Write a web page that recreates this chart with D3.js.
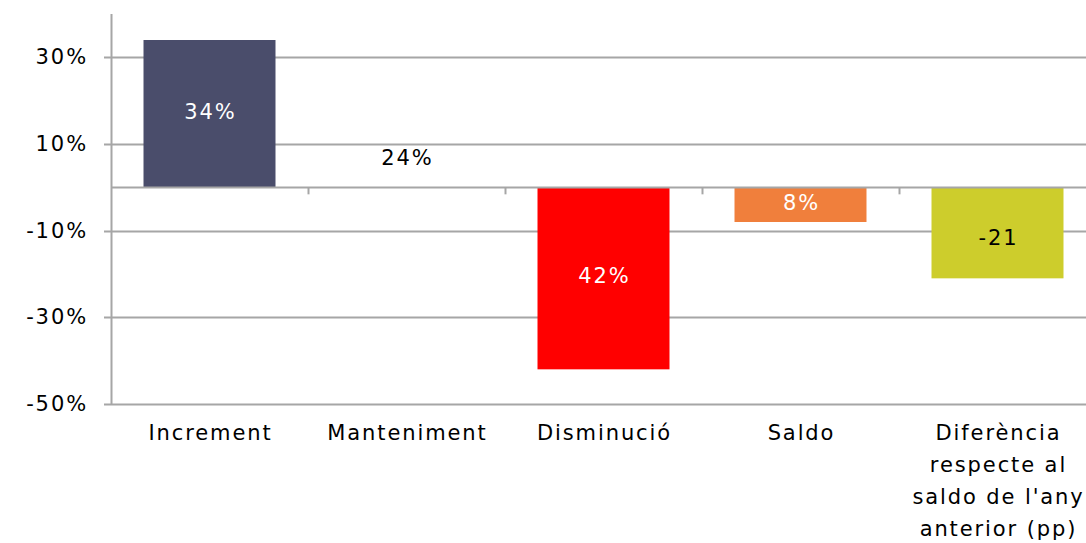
<!DOCTYPE html>
<html>
<head>
<meta charset="utf-8">
<script src="https://cdn.jsdelivr.net/npm/d3@7"></script>
<style>
  html, body { margin: 0; padding: 0; background: #fff; }
  svg text { font-family: "DejaVu Sans", "Open Sans", sans-serif; letter-spacing: 1.9px; }
</style>
</head>
<body>
<svg id="chart" width="1086" height="543"></svg>
<script>
// ---- data ----
const categories = ["Increment", "Manteniment", "Disminució", "Saldo", "Diferència respecte al saldo de l'any anterior (pp)"];
const categoryLines = [["Increment"], ["Manteniment"], ["Disminució"], ["Saldo"], ["Diferència", "respecte al", "saldo de l'any", "anterior (pp)"]];
const barValues = [34, null, -42, -8, -21];
const labelTexts = ["34%", "24%", "42%", "8%", "-21"];
const mantenimentLabelValue = 6.7; // position where the unbarred label sits
const barColors = ["#4a4d6b", "none", "#ff0000", "#f07f3c", "#cdcd2c"];
const labelColors = ["#ffffff", "#000000", "#ffffff", "#ffffff", "#000000"];
const tickValues = [30, 10, -10, -30, -50];

// ---- layout ----
const FS = 21;
const svg = d3.select("#chart");
const x = d3.scaleBand().domain(categories).range([111, 1096]).paddingInner(0.33).paddingOuter(0.165);
const y = d3.scaleLinear().domain([-50, 40]).range([404, 14]);

// gridlines
svg.append("g").selectAll("line").data(tickValues).join("line")
  .attr("x1", 104).attr("x2", 1096)
  .attr("y1", d => Math.round(y(d)) + 0.5).attr("y2", d => Math.round(y(d)) + 0.5)
  .attr("stroke", "#a6a6a6").attr("stroke-width", 2);

// y axis line
svg.append("line").attr("x1", 111.5).attr("x2", 111.5).attr("y1", y(40)).attr("y2", y(-50) + 1)
  .attr("stroke", "#a6a6a6").attr("stroke-width", 2);

// y tick labels
svg.append("g").selectAll("text").data(tickValues).join("text")
  .attr("x", 88).attr("y", d => y(d))
  .attr("text-anchor", "end").attr("dominant-baseline", "central")
  .attr("font-size", FS).attr("fill", "#000")
  .text(d => d + "%");

// bars
const cats = categories.map((c, i) => ({c, i, v: barValues[i]}));
svg.append("g").selectAll("rect").data(cats.filter(d => d.v !== null)).join("rect")
  .attr("x", d => x(d.c)).attr("width", x.bandwidth())
  .attr("y", d => y(Math.max(0, d.v))).attr("height", d => Math.abs(y(d.v) - y(0)))
  .attr("fill", d => barColors[d.i]);

// zero axis
svg.append("line").attr("x1", 111).attr("x2", 1096).attr("y1", Math.round(y(0)) + 0.5).attr("y2", Math.round(y(0)) + 0.5)
  .attr("stroke", "#a6a6a6").attr("stroke-width", 2);
const bounds = categories.map(c => x(c) - x.step() * x.paddingInner() / 2 + x.step());
svg.append("g").selectAll("line").data(bounds.slice(0, 4)).join("line")
  .attr("x1", d => Math.round(d) + 0.5).attr("x2", d => Math.round(d) + 0.5)
  .attr("y1", y(0)).attr("y2", y(0) + 7)
  .attr("stroke", "#a6a6a6").attr("stroke-width", 2);

// value labels
svg.append("g").selectAll("text").data(cats).join("text")
  .attr("x", d => x(d.c) + x.bandwidth() / 2 + 1)
  .attr("y", d => d.v === null ? y(mantenimentLabelValue) : (d.i === 4 ? y(d.v / 2) + 5 : y(d.v / 2) - 2))
  .attr("text-anchor", "middle").attr("dominant-baseline", "central")
  .attr("font-size", FS).attr("fill", d => labelColors[d.i])
  .text(d => labelTexts[d.i]);

// category labels
const cg = svg.append("g").selectAll("text").data(cats).join("text")
  .attr("x", d => x(d.c) + x.bandwidth() / 2 + 1)
  .attr("y", 433)
  .attr("text-anchor", "middle")
  .attr("font-size", FS).attr("fill", "#000");
cg.selectAll("tspan").data(d => categoryLines[d.i]).join("tspan")
  .attr("x", function() { return this.parentNode.getAttribute("x"); })
  .attr("dy", (d, i) => i === 0 ? "0.35em" : 31.8)
  .text(d => d);
</script>
</body>
</html>
